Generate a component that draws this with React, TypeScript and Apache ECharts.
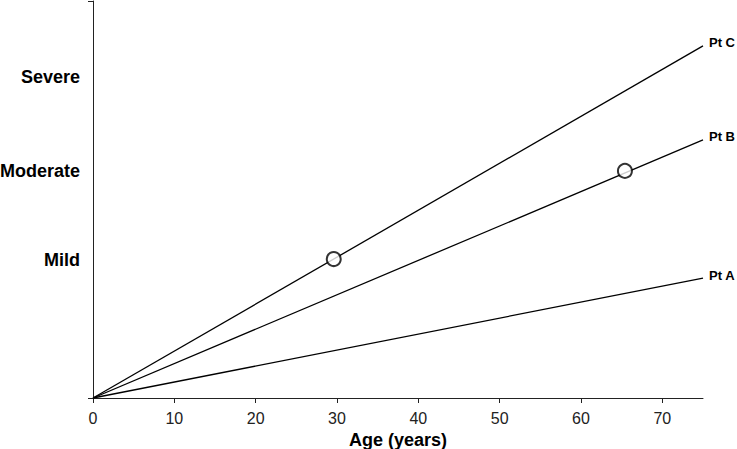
import React, { useEffect, useRef } from "react";
import * as echarts from "echarts";

const xTicks = [0, 10, 20, 30, 40, 50, 60, 70];
const severityValues = [34.8, 57.2, 80.9];
const severityLabels = ["Mild", "Moderate", "Severe"];
const patients = ["Pt A", "Pt B", "Pt C"];
const endAge = 75;
const endScores = [30.2, 65.0, 88.7];
const markerPoints: [number, number][] = [
  [29.6, 35.0],
  [65.4, 57.2],
];

export default function App() {
  const ref = useRef<HTMLDivElement>(null);
  useEffect(() => {
    if (!ref.current) return;
    const chart = echarts.init(ref.current, null, { renderer: "svg" });
    const font = "Liberation Sans, Arial, sans-serif";
    const lineSeries = patients.map((p, i) => ({
      type: "line",
      name: p,
      data: [
        [0, 0],
        [endAge, endScores[i]],
      ],
      showSymbol: false,
      lineStyle: { color: "#000", width: 1.3 },
      endLabel: {
        show: true,
        formatter: p,
        distance: 6,
        color: "#000",
        fontWeight: "bold",
        fontSize: 13,
        fontFamily: font,
        offset: [0, -3],
      },
      z: 2,
    }));
    chart.setOption({
      animation: false,
      grid: { left: 93, right: 34, top: 1, bottom: 51, containLabel: false, outerBoundsMode: "none" },
      xAxis: {
        type: "value",
        min: 0,
        max: 75,
        interval: 10,
        name: "Age (years)",
        nameLocation: "middle",
        nameGap: 27,
        nameTextStyle: { color: "#000", fontWeight: "bold", fontSize: 18, fontFamily: font },
        axisLine: { show: true, lineStyle: { color: "#222", width: 1 } },
        axisTick: { show: true, length: 5, lineStyle: { color: "#222" }, customValues: xTicks },
        axisLabel: {
          color: "#222",
          fontSize: 16,
          fontFamily: font,
          margin: 12,
          customValues: xTicks,
        },
        splitLine: { show: false },
      },
      yAxis: {
        type: "value",
        min: 0,
        max: 100,
        axisLine: { show: true, lineStyle: { color: "#222", width: 1 } },
        axisTick: { show: true, length: 5, lineStyle: { color: "#222" }, customValues: [0, 100] },
        axisLabel: {
          color: "#000",
          fontWeight: "bold",
          fontSize: 18,
          fontFamily: font,
          margin: 13,
          customValues: severityValues,
          formatter: (v: number) => {
            const idx = severityValues.findIndex((s) => Math.abs(s - v) < 0.01);
            return idx >= 0 ? severityLabels[idx] : "";
          },
        },
        splitLine: { show: false },
      },
      series: [
        ...lineSeries,
        {
          type: "scatter",
          data: markerPoints,
          symbol: "circle",
          symbolSize: 14,
          itemStyle: { color: "#fff", borderColor: "#000", borderWidth: 2 },
          z: 5,
        },
      ],
    });
    return () => chart.dispose();
  }, []);
  return <div ref={ref} style={{ width: 737, height: 449, position: "absolute", left: 0, top: 0 }} />;
}
